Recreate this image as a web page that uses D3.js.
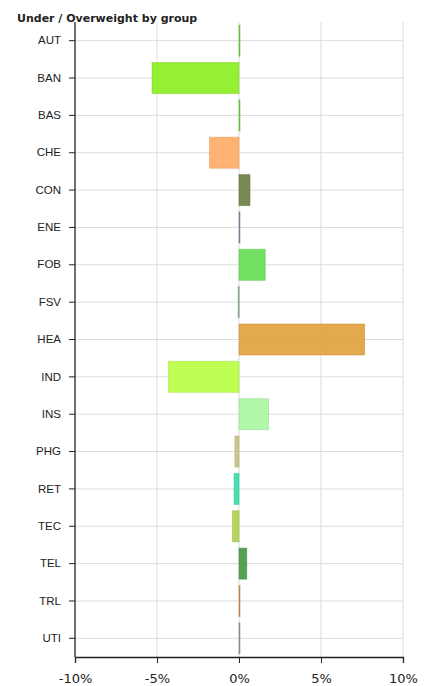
<!DOCTYPE html>
<html>
<head>
<meta charset="utf-8">
<script src="https://cdn.jsdelivr.net/npm/d3@7"></script>
<style>
  body { margin: 0; background: #fff; }
  svg text { fill: #222; }
</style>
</head>
<body>
<div id="graph"></div>
<script>
// groups and their under/overweight, in percent
var groups = ["AUT", "BAN", "BAS", "CHE", "CON", "ENE", "FOB", "FSV", "HEA",
              "IND", "INS", "PHG", "RET", "TEC", "TEL", "TRL", "UTI"];
var weights = [0.03, -5.3, 0.05, -1.8, 0.67, 0.05, 1.6, -0.05, 7.66,
               -4.3, 1.8, -0.25, -0.3, -0.4, 0.47, 0.03, 0.03];
var colors = ["#66cc33", "#8cee22", "#66cc33", "#ffad66", "#6e7f48", "#778899",
              "#66dd55", "#88aa88", "#e2a23e", "#baff44", "#aaf7a4", "#c8c284",
              "#33ddaa", "#b0d050", "#449944", "#cc8844", "#889988"];
var xTicks = [-10, -5, 0, 5, 10];

var width = 428, height = 686;
var margin = {top: 22, right: 25, bottom: 29, left: 75};

var svg = d3.select('#graph').append('svg')
    .attr('width', width)
    .attr('height', height);

svg.append('text')
    .attr('x', 17)
    .attr('y', 22)
    .style('font-family', 'DejaVu Sans, Verdana, sans-serif')
    .style('font-size', '11px')
    .style('font-weight', 'bold')
    .text('Under / Overweight by group');

var x = d3.scaleLinear()
    .domain([-10, 10])
    .range([margin.left, width - margin.right]);

var y = d3.scaleBand()
    .domain(groups)
    .range([margin.top, height - margin.bottom])
    .paddingInner(0.17)
    .paddingOuter(0.085);

var data = groups.map(function (g, i) {
    return {key: g, value: weights[i], color: colors[i]};
});

// grid
svg.append('g').selectAll('line.hgrid')
    .data(groups).enter().append('line')
    .attr('x1', x(-10)).attr('x2', x(10))
    .attr('y1', function (d) { return y(d) + y.bandwidth() / 2; })
    .attr('y2', function (d) { return y(d) + y.bandwidth() / 2; })
    .attr('stroke', '#dcdcdc');

svg.append('g').selectAll('line.vgrid')
    .data(xTicks.slice(1)).enter().append('line')
    .attr('x1', function (d) { return x(d); })
    .attr('x2', function (d) { return x(d); })
    .attr('y1', margin.top).attr('y2', height - margin.bottom)
    .attr('stroke', '#dcdcdc');

// bars
svg.append('g').selectAll('.bar')
    .data(data).enter().append('rect')
    .classed('bar', true)
    .attr('x', function (d) { return x(Math.min(0, d.value)); })
    .attr('width', function (d) { return Math.max(1, Math.abs(x(d.value) - x(0))); })
    .attr('y', function (d) { return y(d.key); })
    .attr('height', y.bandwidth())
    .attr('fill', function (d) { return d.color; })
    .attr('fill-opacity', 0.92)
    .attr('stroke', function (d) { return d3.color(d.color).darker(0.4); })
    .attr('stroke-opacity', 0.5)
    .attr('stroke-width', 1);

// axes
var xAxis = d3.axisBottom(x)
    .tickValues(xTicks)
    .tickSize(6)
    .tickFormat(function (d) { return d + '%'; });

var gx = svg.append('g')
    .attr('transform', 'translate(0,' + (height - margin.bottom) + ')')
    .call(xAxis);
gx.select('.domain').attr('stroke', '#222').attr('stroke-width', 1.3);
gx.selectAll('.tick line').attr('stroke', '#222');
gx.selectAll('.tick text')
    .attr('dy', '1.3em')
    .style('font-family', 'DejaVu Sans, Verdana, sans-serif')
    .style('font-size', '13px');

var yAxis = d3.axisLeft(y).tickSize(6).tickPadding(8);
var gy = svg.append('g')
    .attr('transform', 'translate(' + margin.left + ',0)')
    .call(yAxis);
gy.select('.domain').attr('stroke', '#222').attr('stroke-width', 1.3)
    .attr('d', 'M0,' + margin.top + 'V' + (height - margin.bottom));
gy.selectAll('.tick line').attr('stroke', '#222');
gy.selectAll('.tick text')
    .style('font-family', 'Liberation Sans, Arial, sans-serif')
    .style('font-size', '11.5px');
</script>
</body>
</html>
